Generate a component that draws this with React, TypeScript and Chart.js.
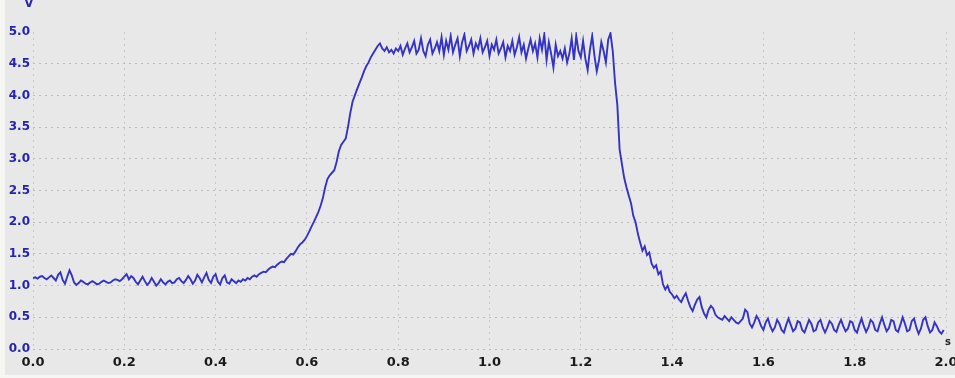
import React, { useEffect, useRef } from "react";
import { Chart, registerables } from "chart.js";

Chart.register(...registerables);

// Signal samples (V), one array per 0.1 s, sampled every 0.005 s
const SAMPLE_STEP = 0.005;
const seg00 = [1.12, 1.13, 1.11, 1.14, 1.15, 1.12, 1.10, 1.13, 1.16, 1.12, 1.08, 1.17, 1.21, 1.09, 1.03, 1.14, 1.24, 1.16, 1.05, 1.01];
const seg01 = [1.04, 1.08, 1.06, 1.03, 1.02, 1.05, 1.07, 1.05, 1.02, 1.03, 1.06, 1.08, 1.06, 1.04, 1.05, 1.08, 1.10, 1.09, 1.07, 1.10];
const seg02 = [1.14, 1.18, 1.10, 1.15, 1.12, 1.06, 1.02, 1.08, 1.14, 1.07, 1.01, 1.05, 1.12, 1.06, 1.00, 1.04, 1.10, 1.05, 1.02, 1.06];
const seg03 = [1.08, 1.04, 1.05, 1.10, 1.12, 1.07, 1.04, 1.09, 1.15, 1.10, 1.03, 1.08, 1.17, 1.12, 1.05, 1.13, 1.20, 1.09, 1.04, 1.14];
const seg04 = [1.18, 1.06, 1.02, 1.12, 1.16, 1.05, 1.03, 1.10, 1.07, 1.04, 1.08, 1.06, 1.10, 1.08, 1.12, 1.10, 1.14, 1.16, 1.14, 1.18];
const seg05 = [1.20, 1.22, 1.21, 1.25, 1.28, 1.30, 1.29, 1.33, 1.36, 1.38, 1.37, 1.42, 1.46, 1.50, 1.49, 1.54, 1.60, 1.65, 1.68, 1.72];
const seg06 = [1.78, 1.85, 1.93, 2.00, 2.08, 2.16, 2.26, 2.38, 2.55, 2.68, 2.74, 2.78, 2.82, 2.95, 3.12, 3.22, 3.27, 3.32, 3.50, 3.72];
const seg07 = [3.90, 4.00, 4.10, 4.19, 4.28, 4.38, 4.46, 4.52, 4.60, 4.66, 4.72, 4.78, 4.82, 4.74, 4.70, 4.76, 4.68, 4.72, 4.66, 4.74];
const seg08 = [4.70, 4.78, 4.64, 4.74, 4.82, 4.68, 4.76, 4.86, 4.66, 4.72, 4.90, 4.70, 4.62, 4.80, 4.88, 4.66, 4.74, 4.84, 4.70, 4.92];
const seg09 = [4.64, 4.86, 4.72, 4.94, 4.68, 4.80, 4.90, 4.62, 4.84, 4.96, 4.70, 4.78, 4.88, 4.66, 4.82, 4.74, 4.90, 4.68, 4.76, 4.86];
const seg10 = [4.62, 4.80, 4.72, 4.88, 4.66, 4.74, 4.84, 4.60, 4.78, 4.70, 4.86, 4.64, 4.76, 4.92, 4.68, 4.80, 4.58, 4.74, 4.88, 4.70];
const seg11 = [4.82, 4.60, 4.90, 4.72, 4.96, 4.56, 4.84, 4.66, 4.44, 4.80, 4.62, 4.70, 4.58, 4.74, 4.52, 4.66, 4.90, 4.56, 4.94, 4.70];
const seg12 = [4.60, 4.86, 4.58, 4.40, 4.72, 4.94, 4.62, 4.38, 4.56, 4.84, 4.70, 4.52, 4.88, 4.98, 4.70, 4.20, 3.85, 3.15, 2.92, 2.70];
const seg13 = [2.55, 2.42, 2.30, 2.10, 2.00, 1.82, 1.68, 1.55, 1.62, 1.48, 1.52, 1.35, 1.28, 1.32, 1.18, 1.22, 1.02, 0.94, 1.00, 0.90];
const seg14 = [0.86, 0.80, 0.84, 0.78, 0.74, 0.82, 0.88, 0.76, 0.66, 0.60, 0.70, 0.78, 0.82, 0.66, 0.56, 0.50, 0.62, 0.68, 0.64, 0.54];
const seg15 = [0.50, 0.48, 0.46, 0.52, 0.48, 0.44, 0.50, 0.46, 0.42, 0.40, 0.44, 0.48, 0.62, 0.58, 0.40, 0.34, 0.42, 0.52, 0.46, 0.36];
const seg16 = [0.30, 0.42, 0.48, 0.36, 0.28, 0.34, 0.46, 0.40, 0.30, 0.26, 0.38, 0.48, 0.38, 0.28, 0.32, 0.44, 0.42, 0.30, 0.26, 0.36];
const seg17 = [0.46, 0.40, 0.28, 0.30, 0.42, 0.46, 0.34, 0.26, 0.34, 0.44, 0.40, 0.30, 0.27, 0.38, 0.46, 0.36, 0.28, 0.32, 0.44, 0.42];
const seg18 = [0.30, 0.26, 0.38, 0.48, 0.36, 0.27, 0.34, 0.46, 0.42, 0.30, 0.28, 0.40, 0.50, 0.38, 0.28, 0.33, 0.46, 0.44, 0.30, 0.27];
const seg19 = [0.38, 0.50, 0.40, 0.28, 0.30, 0.44, 0.48, 0.34, 0.24, 0.32, 0.46, 0.50, 0.36, 0.26, 0.30, 0.42, 0.36, 0.28, 0.24, 0.30];

const X_MIN = 0;
const X_MAX = 2.0;
const X_STEP = 0.2;
const Y_MIN = 0;
const Y_MAX = 5.0;
const Y_STEP = 0.5;
const Y_UNIT = "V";
const X_UNIT = "s";

const segments = [seg00, seg01, seg02, seg03, seg04, seg05, seg06, seg07, seg08, seg09,
  seg10, seg11, seg12, seg13, seg14, seg15, seg16, seg17, seg18, seg19];

export default function App() {
  const ref = useRef<HTMLCanvasElement | null>(null);

  useEffect(() => {
    if (!ref.current) return;
    const values = ([] as number[]).concat(...segments);
    const points = values.map((v, i) => ({ x: +(i * SAMPLE_STEP).toFixed(3), y: v }));

    const bgPlugin = {
      id: "bgPlugin",
      beforeDraw(chart: any) {
        const { ctx, width, height } = chart;
        ctx.save();
        ctx.fillStyle = "#e8e8e8";
        ctx.fillRect(0, 0, width, height);
        ctx.fillStyle = "#f6f6f2";
        ctx.fillRect(0, 0, 5, height);
        ctx.fillRect(0, height - 3, width, 3);
        ctx.restore();
      },
      afterDraw(chart: any) {
        const { ctx } = chart;
        ctx.save();
        ctx.font = "bold 10px 'DejaVu Sans'";
        ctx.fillStyle = "#222222";
        ctx.textAlign = "left";
        ctx.textBaseline = "middle";
        ctx.fillText(X_UNIT, 945, 342);
        ctx.font = "bold 12px 'DejaVu Sans'";
        ctx.fillStyle = "#2a2aa8";
        ctx.textAlign = "center";
        ctx.textBaseline = "bottom";
        ctx.fillText(Y_UNIT, 29, 10);
        ctx.restore();
      },
    };

    const chart = new Chart(ref.current, {
      type: "line",
      data: {
        datasets: [
          {
            data: points,
            borderColor: "#3333c4",
            borderWidth: 1.9,
            pointRadius: 0,
            tension: 0,
            fill: false,
          },
        ],
      },
      options: {
        animation: false,
        responsive: false,
        devicePixelRatio: 1,
        layout: { padding: { top: 32, right: 9, left: 0, bottom: 0 } },
        plugins: { legend: { display: false }, tooltip: { enabled: false } },
        scales: {
          x: {
            type: "linear",
            min: X_MIN,
            max: X_MAX,
            afterFit(scale: any) {
              scale.height = 29;
              scale.paddingLeft = 0;
              scale.paddingRight = 0;
            },
            afterBuildTicks(scale: any) {
              const t = [];
              for (let v = X_MIN; v <= X_MAX + 1e-9; v += X_STEP) t.push({ value: +v.toFixed(1) });
              scale.ticks = t;
            },
            border: { display: false, dash: [2, 4] },
            grid: {
              color: "#c8c8c8",
              lineWidth: 1,
              drawTicks: false,
            },
            ticks: {
              autoSkip: false,
              maxRotation: 0,
              padding: 6,
              color: "#1a1a1a",
              font: { family: "'DejaVu Sans'", size: 13, weight: "bold" },
              callback: (v: any) => Number(v).toFixed(1),
            },
          },
          y: {
            type: "linear",
            min: Y_MIN,
            max: Y_MAX,
            afterFit(scale: any) {
              scale.width = 33;
            },
            border: { display: false, dash: [2, 4] },
            grid: {
              color: (c: any) => (c.tick && c.tick.value >= Y_MAX ? "rgba(0,0,0,0)" : "#bdbdbd"),
              lineWidth: 1,
              drawTicks: false,
            },
            ticks: {
              stepSize: Y_STEP,
              padding: 3,
              color: "#2424b0",
              font: { family: "'DejaVu Sans'", size: 12, weight: "bold" },
              callback: (v: any) => Number(v).toFixed(1),
            },
          },
        },
      },
      plugins: [bgPlugin],
    });

    return () => chart.destroy();
  }, []);

  return (
    <div style={{ position: "fixed", left: 0, top: 0, width: 955, height: 378 }}>
      <canvas ref={ref} width={955} height={378} style={{ width: 955, height: 378 }} />
    </div>
  );
}
